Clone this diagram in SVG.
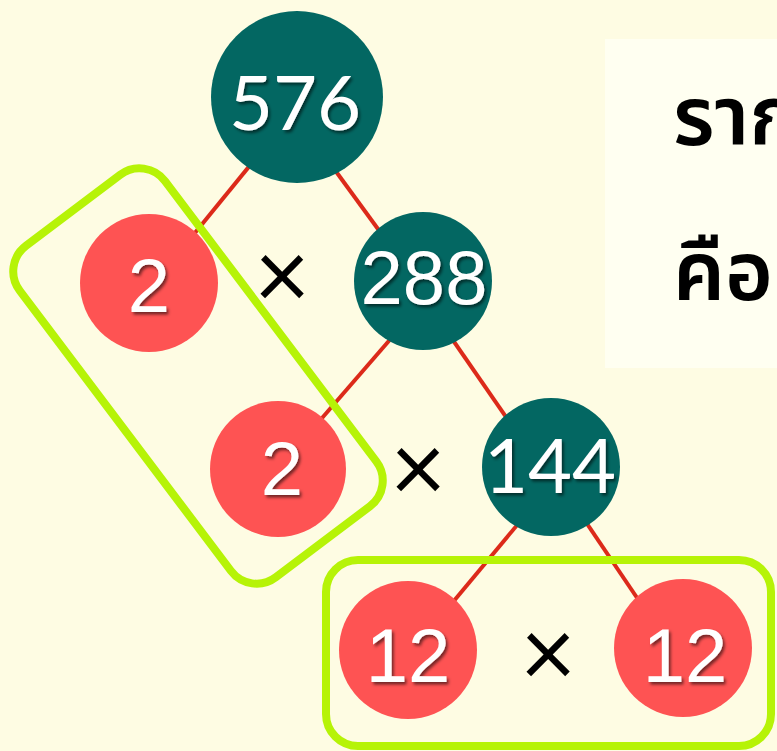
<svg xmlns="http://www.w3.org/2000/svg" width="777" height="751" viewBox="0 0 777 751">
  <defs>
    <filter id="shadow" x="-20%" y="-20%" width="140%" height="140%">
      <feDropShadow dx="2" dy="2.5" stdDeviation="1.4" flood-color="#000" flood-opacity="0.55"/>
    </filter>
    <style>
      .bg { fill: #FEFCE3; }
      .panel { fill: #FFFFF1; }
      .teal { fill: #036762; }
      .red { fill: #FE5353; }
      .num { fill: #FFFFFF; font-size: 76px; text-anchor: middle; filter: url(#shadow); }
      .hum { font-family: Lato, "Open Sans", sans-serif; }
      .grot { font-family: "Liberation Sans", Arial, sans-serif; }
      .edge { stroke: #DC2A1A; stroke-width: 4; fill: none; }
      .times { fill: #000; font-family: Lato, "Liberation Sans", sans-serif; font-weight: 400; font-size: 96px; text-anchor: middle; }
      .frame { fill: none; stroke: #B6F307; stroke-width: 8; }
      .thai { fill: #000; font-family: "Noto Sans Thai", "Noto Sans", "DejaVu Sans", sans-serif; font-size: 82px; font-weight: 600; }
    </style>
  </defs>

  <rect class="bg" x="0" y="0" width="777" height="751"/>

  <!-- side caption panel -->
  <g id="caption">
    <rect class="panel" x="605" y="39" width="172" height="329"/>
    <text class="thai" x="673" y="145">ราก</text>
    <text class="thai" x="673" y="300">คือ</text>
  </g>

  <!-- branches of the factor tree -->
  <g id="connectors">
    <line class="edge" x1="287" y1="120" x2="181" y2="250"/>
    <line class="edge" x1="313" y1="140" x2="386" y2="240"/>
    <line class="edge" x1="407" y1="320" x2="303" y2="440"/>
    <line class="edge" x1="439" y1="320" x2="522" y2="440"/>
    <line class="edge" x1="538" y1="500" x2="438" y2="620"/>
    <line class="edge" x1="571" y1="500" x2="652" y2="620"/>
  </g>

  <g id="n576">
    <circle class="teal" cx="297" cy="97" r="86"/>
    <text class="num hum" x="295" y="130">576</text>
  </g>
  <g id="n2a">
    <circle class="red" cx="149" cy="283" r="69"/>
    <text class="num grot" x="149" y="312">2</text>
  </g>
  <g id="n288">
    <circle class="teal" cx="423" cy="281" r="69"/>
    <text class="num grot" x="424" y="304">288</text>
  </g>
  <g id="n2b">
    <circle class="red" cx="278" cy="469" r="68"/>
    <text class="num grot" x="282" y="495">2</text>
  </g>
  <g id="n144">
    <circle class="teal" cx="551" cy="467" r="69"/>
    <text class="num hum" x="550" y="493">144</text>
  </g>
  <g id="n12a">
    <circle class="red" cx="408" cy="650" r="69"/>
    <text class="num grot" x="408" y="682">12</text>
  </g>
  <g id="n12b">
    <circle class="red" cx="683" cy="648" r="69"/>
    <text class="num grot" x="685" y="682">12</text>
  </g>

  <!-- multiplication signs -->
  <g id="ops">
    <text class="times" x="282" y="309">×</text>
    <text class="times" x="418" y="502">×</text>
    <text class="times" x="548" y="687">×</text>
  </g>

  <!-- highlight frames -->
  <g id="frames">
    <rect class="frame" x="-207.5" y="-91" width="415" height="182" rx="32" transform="translate(198 376) rotate(53)"/>
    <rect class="frame" x="326" y="560" width="445" height="186" rx="32"/>
  </g>
</svg>
